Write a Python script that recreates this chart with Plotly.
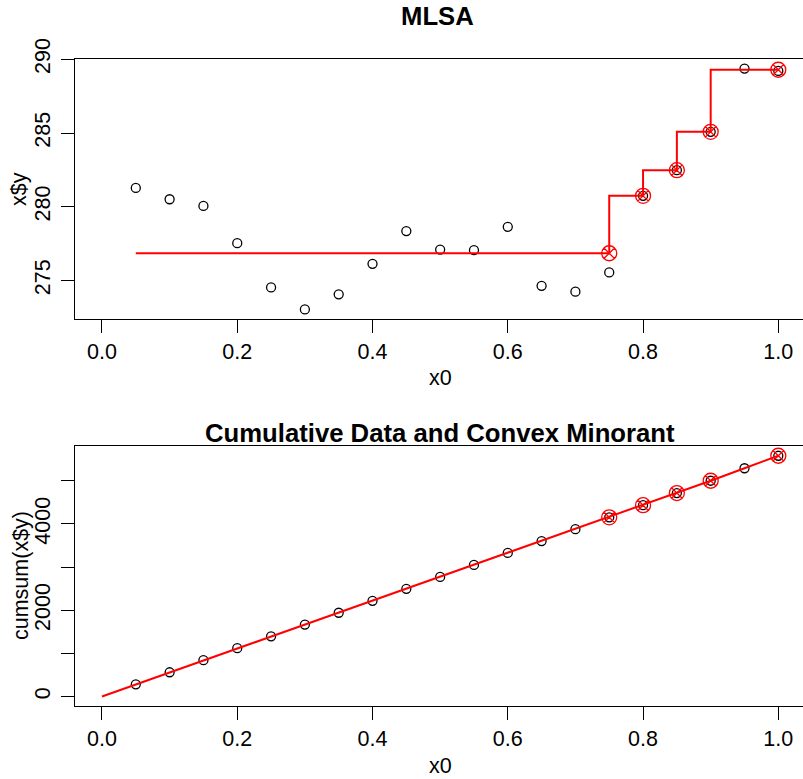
import plotly.graph_objects as go

# ---- data ----
x0 = [0.05, 0.10, 0.15, 0.20, 0.25, 0.30, 0.35, 0.40, 0.45, 0.50,
      0.55, 0.60, 0.65, 0.70, 0.75, 0.80, 0.85, 0.90, 0.95, 1.00]
y = [281.28, 280.51, 280.06, 277.53, 274.53, 273.04, 274.06, 276.13, 278.35, 277.10,
     277.06, 278.64, 274.64, 274.24, 275.55, 280.74, 282.48, 285.08, 289.37, 289.21]
yf = [276.85] * 15 + [280.74, 282.48, 285.08, 289.29, 289.29]
knot_idx = [14, 15, 16, 17, 19]  # 0-based indices of knots

x_ticks = [0.0, 0.2, 0.4, 0.6, 0.8, 1.0]
x_ticklabels = ["0.0", "0.2", "0.4", "0.6", "0.8", "1.0"]
y1_ticks = [275, 280, 285, 290]
y2_ticks = [0, 1000, 2000, 3000, 4000, 5000]
y2_ticklabels = ["0", "", "2000", "", "4000", ""]

# derived series
cum_y = []
s = 0.0
for v in y:
    s += v
    cum_y.append(s)
cum_x = [0.0] + x0
cum_f = [0.0]
s = 0.0
for v in yf:
    s += v
    cum_f.append(s)

knot_x = [x0[i] for i in knot_idx]
knot_yf = [yf[i] for i in knot_idx]
knot_cf = [cum_f[i + 1] for i in knot_idx]

W, H = 803, 779
FONT = "Liberation Sans, Arial, sans-serif"
FS = 21.5

fig = go.Figure()

# --- top panel ---
fig.add_trace(go.Scatter(x=x0, y=y, mode="markers", xaxis="x", yaxis="y",
                         marker=dict(symbol="circle-open", size=9, color="black",
                                     line=dict(width=1.3, color="black")),
                         showlegend=False, hoverinfo="skip"))
fig.add_trace(go.Scatter(x=x0, y=yf, mode="lines", xaxis="x", yaxis="y",
                         line=dict(color="red", width=2, shape="vh"),
                         showlegend=False, hoverinfo="skip"))
fig.add_trace(go.Scatter(x=knot_x, y=knot_yf, mode="markers", xaxis="x", yaxis="y",
                         marker=dict(symbol="circle-x-open", size=15, color="red",
                                     line=dict(width=1.3, color="red")),
                         showlegend=False, hoverinfo="skip"))

# --- bottom panel ---
fig.add_trace(go.Scatter(x=x0, y=cum_y, mode="markers", xaxis="x2", yaxis="y2",
                         marker=dict(symbol="circle-open", size=9, color="black",
                                     line=dict(width=1.3, color="black")),
                         showlegend=False, hoverinfo="skip"))
fig.add_trace(go.Scatter(x=cum_x, y=cum_f, mode="lines", xaxis="x2", yaxis="y2",
                         line=dict(color="red", width=2),
                         showlegend=False, hoverinfo="skip"))
fig.add_trace(go.Scatter(x=knot_x, y=knot_cf, mode="markers", xaxis="x2", yaxis="y2",
                         marker=dict(symbol="circle-x-open", size=15, color="red",
                                     line=dict(width=1.3, color="red")),
                         showlegend=False, hoverinfo="skip"))

xdom = [75 / W, 1.0]
y1dom = [1 - 319 / H, 1 - 59 / H]
y2dom = [1 - 706 / H, 1 - 446 / H]
xrange = [-0.0399, 1.0365]

common_x = dict(range=xrange, tickvals=x_ticks, ticktext=x_ticklabels,
                ticks="outside", ticklen=13, tickwidth=1, tickcolor="black",
                showline=True, linecolor="black", linewidth=1, mirror=True,
                showgrid=False, zeroline=False, automargin=False,
                tickfont=dict(family=FONT, size=FS, color="black"))
common_y = dict(ticks="outside", ticklen=13, tickwidth=1, tickcolor="black",
                showline=True, linecolor="black", linewidth=1, mirror=False,
                showgrid=False, zeroline=False, tickangle=-90, automargin=False,
                ticklabelstandoff=2,
                tickfont=dict(family=FONT, size=FS, color="black"))

fig.update_layout(
    width=W, height=H,
    margin=dict(l=0, r=0, t=0, b=0, autoexpand=False),
    paper_bgcolor="white", plot_bgcolor="white",
    xaxis=dict(domain=xdom, anchor="y", **common_x),
    yaxis=dict(domain=y1dom, anchor="x", range=[272.39, 290.02],
               tickvals=y1_ticks, ticktext=[str(t) for t in y1_ticks], **common_y),
    xaxis2=dict(domain=xdom, anchor="y2", **common_x),
    yaxis2=dict(domain=y2dom, anchor="x2", range=[-220, 5806],
                tickvals=y2_ticks, ticktext=y2_ticklabels, **common_y),
)

def ann(text, px, py, size=FS, bold=False, angle=0):
    t = f"<b>{text}</b>" if bold else text
    fig.add_annotation(text=t, x=px / W, y=1 - py / H, xref="paper", yref="paper",
                       xanchor="center", yanchor="middle", showarrow=False,
                       textangle=angle,
                       font=dict(family=FONT, size=size, color="black"))

ann("MLSA", 438, 16, size=25.7, bold=True)
ann("x0", 440, 378)
ann("x$y", 19, 189, angle=-90)
ann("Cumulative Data and Convex Minorant", 440, 433, size=25.7, bold=True)
ann("x0", 440, 766)
ann("cumsum(x$y)", 21, 576, angle=-90)

fig.write_html("out.html")
